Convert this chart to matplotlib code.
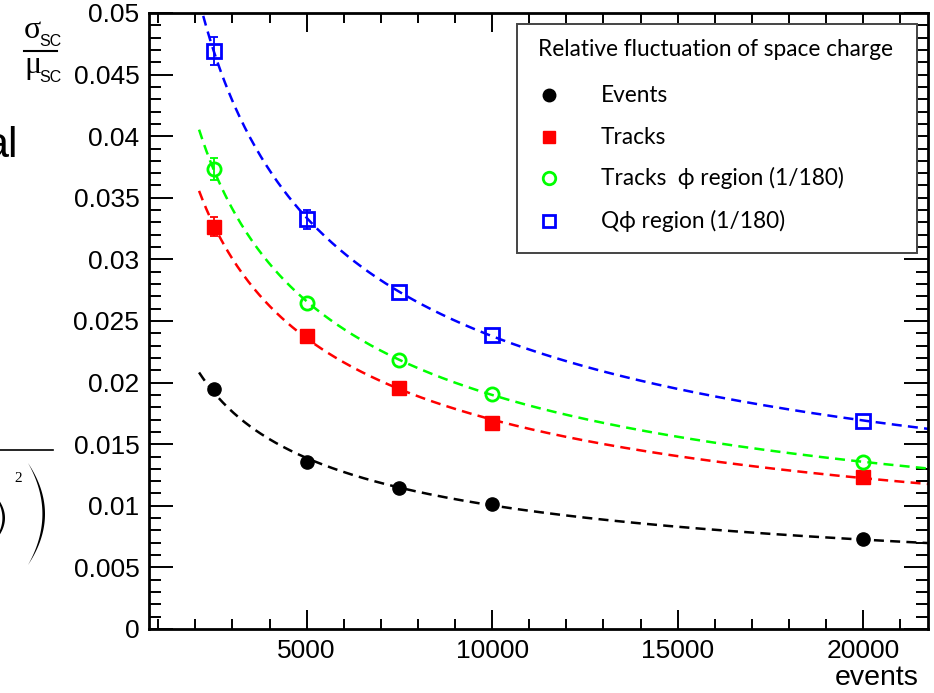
import numpy as np
import matplotlib
matplotlib.use("Agg")
import matplotlib.pyplot as plt
from matplotlib.lines import Line2D
from matplotlib.patches import Rectangle, Polygon
from matplotlib.ticker import MultipleLocator, FuncFormatter

# Relative fluctuation of the space charge vs. number of events
events = [2500, 5000, 7500, 10000, 20000]
rel_events = [0.01948, 0.01353, 0.01145, 0.01013, 0.00728]
rel_tracks = [0.03266, 0.02381, 0.01953, 0.01675, 0.01231]
rel_tracks_phi = [0.03731, 0.02649, 0.02183, 0.01907, 0.01356]
rel_q_phi = [0.04692, 0.03325, 0.02738, 0.02384, 0.01691]

# errors hidden under the markers are left at zero
err_events = [0, 0, 0, 0, 0]
err_tracks = [0.0008, 0, 0, 0, 0]
err_tracks_phi = [0.0009, 0, 0, 0, 0]
err_q_phi = [0.00116, 0.0008, 0, 0, 0]

legend_title = "Relative fluctuation of space charge"
labels = ["Events", "Tracks", "Tracks  \u03d5 region (1/180)", "Q\u03d5 region (1/180)"]

W, H = 934, 693
X_RANGE = (750, 21750)
FIT_RANGE = (2100, 21750)


def fx(px):
    return px / W


def fy(py):
    return 1 - py / H


def power_fit(x, y):
    """Fits y = a * x^b in log space and returns a callable."""
    b, loga = np.polyfit(np.log(x), np.log(y), 1)
    return lambda t: np.exp(loga) * t ** b


fig = plt.figure(figsize=(W / 100, H / 100), dpi=100)
ax = fig.add_axes([fx(149), fy(629), fx(928) - fx(149), fy(13) - fy(629)])

series = [
    (rel_events, err_events, "black", dict(marker="o", mfc="black")),
    (rel_tracks, err_tracks, "red", dict(marker="s", mfc="red")),
    (rel_tracks_phi, err_tracks_phi, "#00ff00", dict(marker="o", mfc="none", mew=2)),
    (rel_q_phi, err_q_phi, "blue", dict(marker="s", mfc="none", mew=2)),
]

tfit = np.linspace(*FIT_RANGE, 400)
for vals, errs, col, mk in series:
    x = np.array(events, float)
    y = np.array(vals)
    e = np.array(errs)
    f = power_fit(x, y)
    ax.plot(tfit, f(tfit), color=col, lw=1.8, ls=(0, (4, 2.5)), zorder=2)
    m = e > 0
    if m.any():
        ax.errorbar(x[m], y[m], yerr=e[m], fmt="none", ecolor=col, elinewidth=1.3,
                    capsize=3, capthick=1.3, zorder=3)
    ax.plot(x, y, ls="none", color=col, mec=col, ms=9.5, zorder=4, **mk)

ax.set_xlim(*X_RANGE)
ax.set_ylim(0, 0.05)
ax.xaxis.set_major_locator(MultipleLocator(5000))
ax.xaxis.set_minor_locator(MultipleLocator(1000))
ax.yaxis.set_major_locator(MultipleLocator(0.005))
ax.yaxis.set_minor_locator(MultipleLocator(0.001))
ax.yaxis.set_major_formatter(FuncFormatter(lambda v, p: f"{v:g}"))
ax.xaxis.set_major_formatter(FuncFormatter(lambda v, p: f"{v:g}"))

for s in ax.spines.values():
    s.set_linewidth(2)
ax.tick_params(which="both", direction="in", top=True, right=True, width=1.4,
               labelsize=19, labelfontfamily="Liberation Sans")
ax.tick_params(axis="x", which="major", length=14, pad=7)
ax.tick_params(axis="x", which="minor", length=7)
ax.tick_params(axis="y", which="major", length=17, pad=7)
ax.tick_params(axis="y", which="minor", length=8.6)

fig.text(fx(919), fy(678), "events", ha="right", va="center", fontsize=20.5,
         family="Liberation Sans")

# y-axis title: sigma over mu
fig.text(fx(24), fy(31), "\u03c3", fontsize=23, family="Liberation Serif", va="center")
fig.text(fx(39), fy(41), "SC", fontsize=11.5, family="Liberation Sans", va="center")
fig.add_artist(Line2D([fx(24), fx(57)], [fy(51), fy(51)], color="black", lw=1.5))
fig.text(fx(24), fy(65), "\u03bc", fontsize=23, family="Liberation Serif", va="center")
fig.text(fx(39), fy(78), "SC", fontsize=11.5, family="Liberation Sans", va="center")

# Legend box
fig.add_artist(Rectangle((fx(517), fy(253)), fx(917) - fx(517), fy(24) - fy(253),
                         transform=fig.transFigure, facecolor="white",
                         edgecolor="#444444", lw=1.4, zorder=5))
fig.text(fx(538), fy(49), legend_title, fontsize=16.3, family=["Lato", "DejaVu Sans"],
         va="center", zorder=6)
rows = [95, 137, 178, 221]
for (vals, errs, col, mk), lab, ry in zip(series, labels, rows):
    fig.add_artist(Line2D([fx(549)], [fy(ry)], transform=fig.transFigure, ls="none",
                          color=col, mec=col, ms=9, zorder=6, **mk))
    fig.text(fx(601), fy(ry), lab, fontsize=16.3, family=["Lato", "DejaVu Sans"],
             va="center", zorder=6)

# Fragments of neighbouring slide content on the left
fig.text(fx(18), fy(157), "al", fontsize=31, family="Liberation Sans", ha="right",
         va="baseline")
fig.add_artist(Line2D([0, fx(53)], [fy(450), fy(450)], color="black", lw=1.2))
fig.text(fx(18), fy(478), "2", fontsize=11, family="Liberation Serif", ha="center",
         va="center")


def paren(x0, width, yc, half_h, thick):
    t = np.linspace(-1, 1, 60)
    outer = np.column_stack([x0 + width * (1 - t ** 2), yc + half_h * t])
    inner = np.column_stack([x0 + (width - thick) * (1 - t ** 2), yc + half_h * t])[::-1]
    pts = np.vstack([outer, inner])
    pts = np.column_stack([pts[:, 0] / W, 1 - pts[:, 1] / H])
    fig.add_artist(Polygon(pts, closed=True, transform=fig.transFigure,
                           facecolor="black", edgecolor="none"))


paren(28, 17, 514, 51, 2.6)
paren(-12, 17, 518, 30, 2.6)

fig.savefig("out.png", dpi=100)
